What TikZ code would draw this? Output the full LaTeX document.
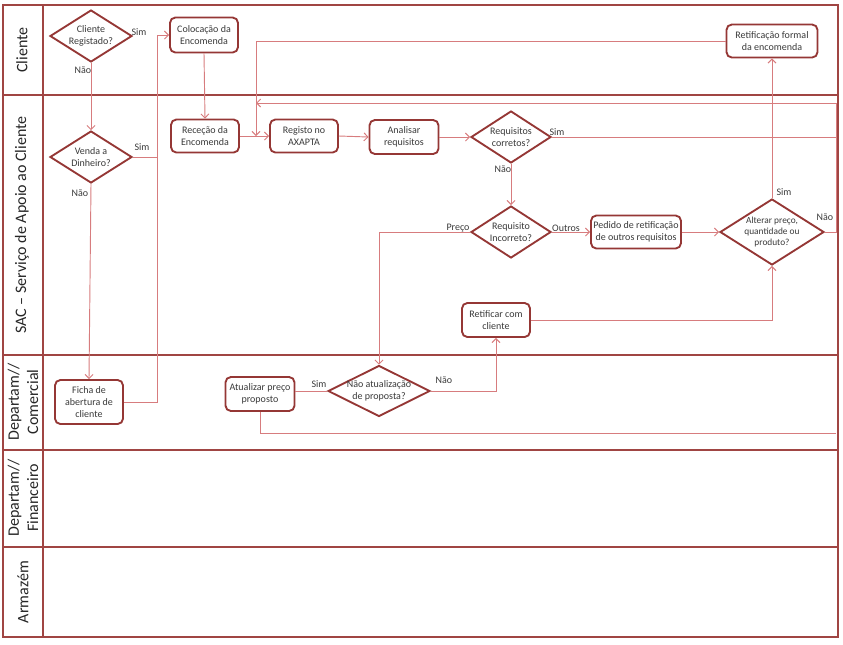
\documentclass[tikz,border=0pt]{standalone}
\usepackage{fontspec}
\setmainfont{Carlito}
\usetikzlibrary{shapes.geometric,arrows.meta}
\definecolor{framec}{HTML}{A04543}
\definecolor{shapec}{HTML}{953735}
\definecolor{connc}{HTML}{D77C7E}
\definecolor{txtc}{HTML}{3A3A3A}
\begin{document}
\begin{tikzpicture}[x=0.75pt,y=-0.75pt,
  framel/.style={draw=framec,line width=1.5pt},
  lane/.style={font=\fontsize{12}{14.5}\selectfont,align=center,text=black!85,rotate=90},
  box/.style={draw=shapec,line width=1.4pt,rounded corners=4pt,fill=white,inner sep=0pt},
  dia/.style={draw=shapec,line width=1.4pt,diamond,fill=white,inner sep=0pt},
  txt/.style={font=\fontsize{7.5}{9}\selectfont,align=center,text=txtc,inner sep=0pt},
  lbl/.style={font=\fontsize{7.5}{9}\selectfont,text=txtc,inner sep=0pt},
  conn/.style={draw=connc,line width=0.7pt},
  arr/.style={conn,-{Straight Barb[length=3pt,width=6pt]}}
]
\useasboundingbox (0,0) rectangle (843,644);
% frame and lanes
\draw[framel] (3,5) rectangle (838,637);
\draw[framel] (43,5) -- (43,637);
\foreach \yy in {95,355,450,547} \draw[framel] (3,\yy) -- (838,\yy);
\node[lane] (l1) at (22,50) {Cliente};
\node[lane] (l2) at (22,225) {SAC -- Serviço de Apoio ao Cliente};
\node[lane] (l3) at (23,402) {Departam//\\Comercial};
\node[lane] (l4) at (23,498) {Departam//\\Financeiro};
\node[lane] (l5) at (23,592) {Armazém};

% shapes
\node[dia,minimum width=82*0.75pt,minimum height=52*0.75pt] (d1) at (91,36) {};
\node[txt] (d1t) at (d1) {Cliente\\Registado?};
\node[dia,minimum width=82*0.75pt,minimum height=52*0.75pt] (d2) at (91,157) {};
\node[txt] (d2t) at (d2) {Venda a\\Dinheiro?};
\node[box,minimum width=68*0.75pt,minimum height=35*0.75pt] (colo) at (204,35) {};
\node[txt] (colot) at (colo) {Colocação da\\Encomenda};
\node[box,minimum width=68*0.75pt,minimum height=33*0.75pt] (rece) at (205,136) {};
\node[txt] (recet) at (rece) {Receção da\\Encomenda};
\node[box,minimum width=68*0.75pt,minimum height=33*0.75pt] (regi) at (304,136) {};
\node[txt] (regit) at (regi) {Registo no\\AXAPTA};
\node[box,minimum width=69*0.75pt,minimum height=34*0.75pt] (anal) at (404,137) {};
\node[txt] (analt) at (anal) {Analisar\\requisitos};
\node[dia,minimum width=80*0.75pt,minimum height=52*0.75pt] (d3) at (511,137) {};
\node[txt] (d3t) at (d3) {Requisitos\\corretos?};
\node[dia,minimum width=80*0.75pt,minimum height=52*0.75pt] (d4) at (511,232) {};
\node[txt] (d4t) at (d4) {Requisito\\Incorreto?};
\node[box,minimum width=90*0.75pt,minimum height=33*0.75pt] (pedi) at (636,232) {};
\node[txt] (pedit) at (pedi) {Pedido de retificação\\de outros requisitos};
\node[dia,minimum width=104*0.75pt,minimum height=66*0.75pt] (alt) at (772,232) {};
\node[txt,font=\fontsize{7}{8.5}\selectfont] (altt) at (alt) {Alterar preço,\\quantidade ou\\produto?};
\node[box,minimum width=91*0.75pt,minimum height=33*0.75pt] (retf) at (772,41) {};
\node[txt] (retft) at (retf) {Retificação formal\\da encomenda};
\node[box,minimum width=68*0.75pt,minimum height=34*0.75pt] (retc) at (496,320) {};
\node[txt] (retct) at (retc) {Retificar com\\cliente};
\node[dia,minimum width=102*0.75pt,minimum height=51*0.75pt] (d5) at (379,391) {};
\node[txt] (d5t) at (d5) {Não atualização\\de proposta?};
\node[box,minimum width=69*0.75pt,minimum height=34*0.75pt] (atua) at (260,394) {};
\node[txt] (atuat) at (atua) {Atualizar preço\\proposto};
\node[box,minimum width=68*0.75pt,minimum height=44*0.75pt] (ficha) at (89,402) {};
\node[txt] (fichat) at (ficha) {Ficha de\\abertura de\\cliente};

% helper coordinates
\coordinate (jv) at (157,157);
\coordinate (m1) at (256,136);
\coordinate (m2) at (256,103);
\coordinate (eA) at (836,103);
\coordinate (eB) at (836,137);
\coordinate (eC) at (836,433);
\coordinate (cv) at (157,35);

% connectors
\draw[arr] (d1.south) -- (d2.north);
\draw[arr] (d2.south) -- (ficha.north);
\draw[conn] (d2.east) -- (jv);
\draw[arr] (ficha.east) -| (cv) -- (colo.west);
\draw[arr] (colo.south) -- (rece.north);
\draw[arr] (rece.east) -- (regi.west);
\draw[arr] (retf.west) -| (m1);
\draw[arr] (alt.east) -| (eA) -- (m2);
\draw[arr] (regi.east) -- (anal.west);
\draw[arr] (anal.east) -- (d3.west);
\draw[conn] (d3.east) -- (eB);
\draw[arr] (d3.south) -- (d4.north);
\draw[arr] (d4.west) -| (d5.north);
\draw[arr] (d4.east) -- (pedi.west);
\draw[arr] (pedi.east) -- (alt.west);
\draw[arr] (alt.north) -- (retf.south);
\draw[arr] (retc.east) -| (alt.south);
\draw[arr] (d5.east) -| (retc.south);
\draw[conn] (d5.west) -- (atua.east |- d5.west);
\draw[conn] (atua.south) |- (eC);

% labels
\node[lbl] (s1) at (139,32) {Sim};
\node[lbl] (n1) at (83,70) {Não};
\node[lbl] (s2) at (142,147) {Sim};
\node[lbl] (n2) at (80,193) {Não};
\node[lbl] (s3) at (557,132) {Sim};
\node[lbl] (n3) at (503,169) {Não};
\node[lbl] (p4) at (458,228) {Preço};
\node[lbl] (o4) at (566,228) {Outros};
\node[lbl] (s6) at (784,192) {Sim};
\node[lbl] (n6) at (825,217) {Não};
\node[lbl] (s5) at (319,384) {Sim};
\node[lbl] (n5) at (444,380) {Não};
\end{tikzpicture}
\end{document}
